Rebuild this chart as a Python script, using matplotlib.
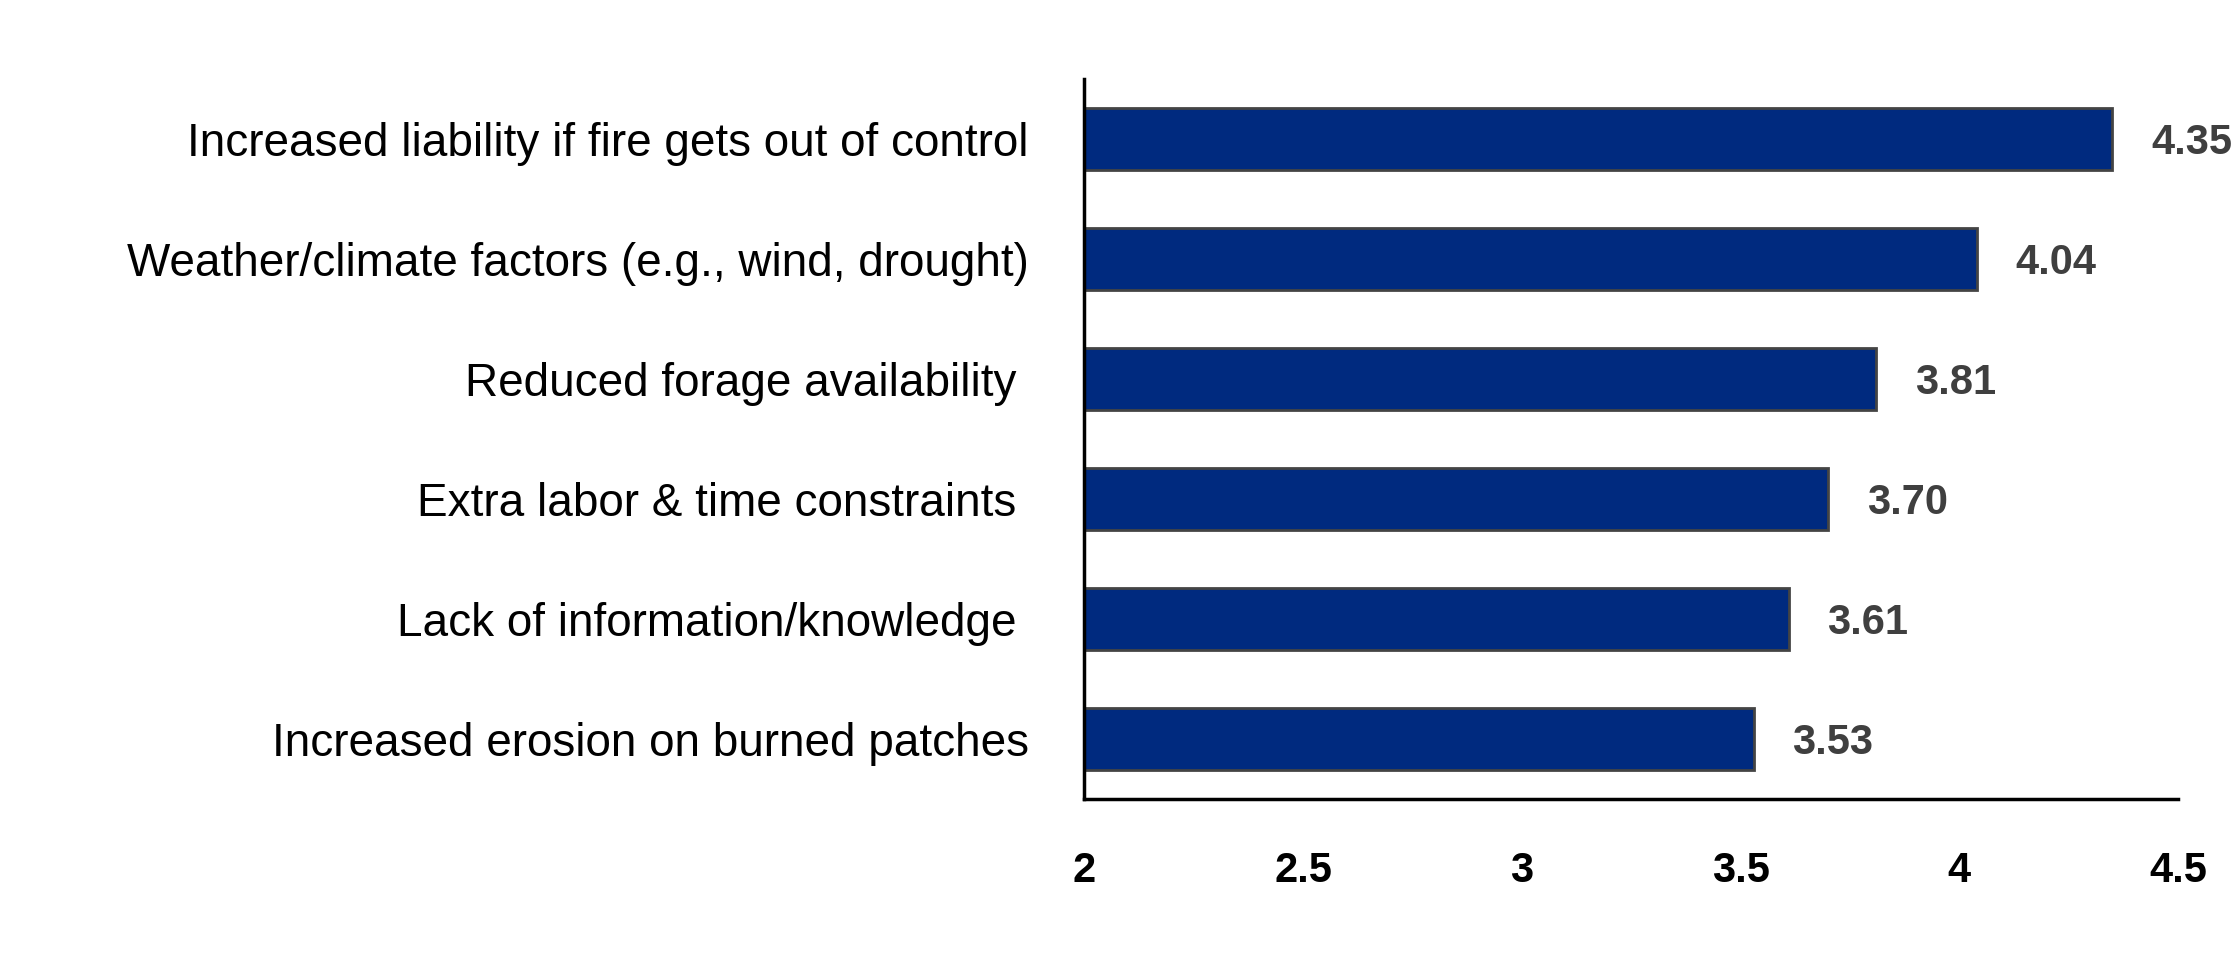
import matplotlib.pyplot as plt

plt.rcParams['font.family'] = 'Liberation Sans'

categories = ["Increased liability if fire gets out of control",
              "Weather/climate factors (e.g., wind, drought)",
              "Reduced forage availability ",
              "Extra labor & time constraints ",
              "Lack of information/knowledge ",
              "Increased erosion on burned patches"]
values = [4.35, 4.04, 3.81, 3.70, 3.61, 3.53]
xticks = [2, 2.5, 3, 3.5, 4, 4.5]
xticklabels = ["2", "2.5", "3", "3.5", "4", "4.5"]

fig = plt.figure(figsize=(22.36, 9.6), dpi=100)
ax = fig.add_axes([0.485, 0.168, 0.489, 0.75])

ypos = list(range(len(categories)))
ax.barh(ypos, [v - 2 for v in values], left=2, height=0.52,
        color='#002a7f', edgecolor='#444444', linewidth=2)
for y, v in zip(ypos, values):
    ax.annotate("{:.2f}".format(v), (v, y), xytext=(28, -3), textcoords='offset points',
                ha='left', va='center', fontsize=30, fontweight='bold', color='#3f3f3f')

ax.set_xlim(2, 4.5)
ax.set_ylim(5.5, -0.5)
ax.set_yticks(ypos)
ax.set_yticklabels(categories, fontsize=33)
ax.set_xticks(xticks)
ax.set_xticklabels(xticklabels, fontsize=30, fontweight='bold')
ax.tick_params(axis='y', length=0, pad=40)
ax.tick_params(axis='x', length=0, pad=38)
for s in ['top', 'right']:
    ax.spines[s].set_visible(False)
ax.spines['left'].set_linewidth(2.5)
ax.spines['bottom'].set_linewidth(2.5)

fig.savefig('out.png', dpi=100)
